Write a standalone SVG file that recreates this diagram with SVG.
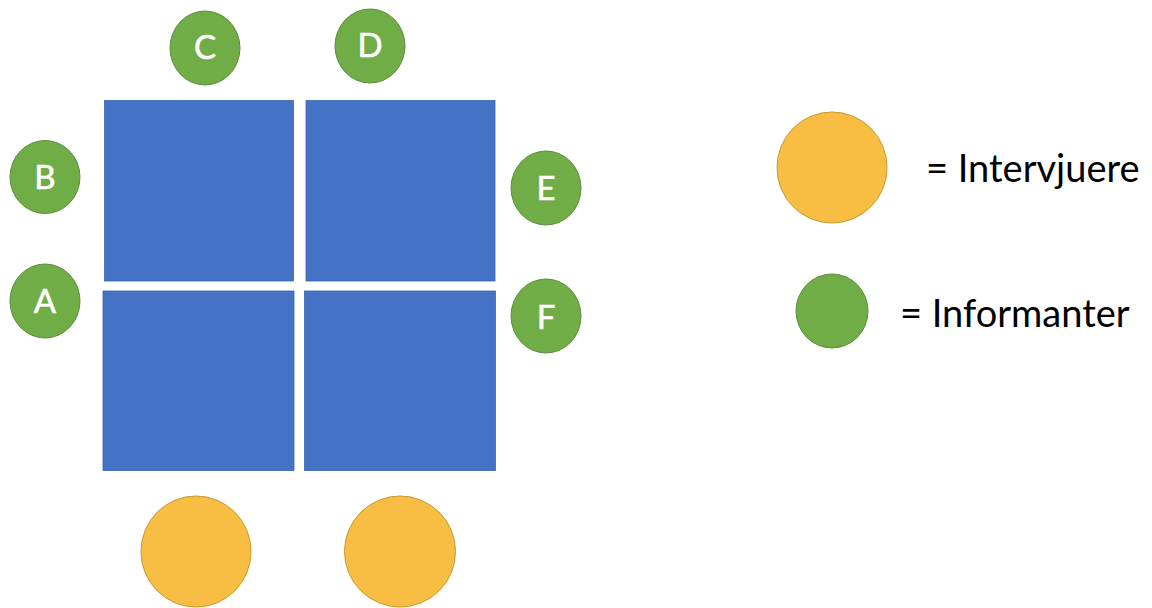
<svg xmlns="http://www.w3.org/2000/svg" width="1152" height="608" viewBox="0 0 1152 608">
<style>
.table{fill:#4472C4;stroke:#3A65B0;stroke-width:0.8}
.inf{fill:#70AD47;stroke:#5A8E38;stroke-width:1}
.int{fill:#F8BE44;stroke:#C9972F;stroke-width:1}
.lbl{font-family:Lato,"Open Sans","Liberation Sans",sans-serif;font-size:33px;fill:#FFFFFF;stroke:#FFFFFF;stroke-width:0.6;text-anchor:middle}
.leg{font-family:Lato,"Open Sans","Liberation Sans",sans-serif;font-size:38px;fill:#000000}
</style>
<rect width="1152" height="608" fill="#FFFFFF"/>
<g id="tables">
<rect id="table-tl" class="table" x="104.5" y="100.5" width="189" height="180.5"/>
<rect id="table-tr" class="table" x="306" y="100.5" width="189" height="180.5"/>
<rect id="table-bl" class="table" x="103" y="291" width="191" height="179.5"/>
<rect id="table-br" class="table" x="304.5" y="291" width="191" height="179.5"/>
</g>
<g id="node-C"><ellipse class="inf" cx="205" cy="48" rx="35" ry="37"/><text class="lbl" x="205" y="59">C</text></g>
<g id="node-D"><ellipse class="inf" cx="370" cy="46" rx="35" ry="37"/><text class="lbl" x="370" y="57">D</text></g>
<g id="node-B"><ellipse class="inf" cx="45" cy="177" rx="35" ry="36.5"/><text class="lbl" x="45" y="189">B</text></g>
<g id="node-E"><ellipse class="inf" cx="546" cy="188" rx="35" ry="37"/><text class="lbl" x="546" y="200">E</text></g>
<g id="node-A"><ellipse class="inf" cx="45" cy="301" rx="35" ry="37"/><text class="lbl" x="45" y="313">A</text></g>
<g id="node-F"><ellipse class="inf" cx="546" cy="316" rx="35" ry="37"/><text class="lbl" x="546" y="329">F</text></g>
<g id="interviewer-1"><ellipse class="int" cx="196" cy="551.5" rx="55" ry="55.5"/></g>
<g id="interviewer-2"><ellipse class="int" cx="400" cy="551.5" rx="55.5" ry="55.5"/></g>
<g id="legend">
<g id="legend-intervjuere"><ellipse class="int" cx="832" cy="167.5" rx="55" ry="55.5"/><text class="leg" x="926" y="182">= Intervjuere</text></g>
<g id="legend-informanter"><ellipse class="inf" cx="832" cy="311" rx="36" ry="37"/><text class="leg" x="900" y="327">= Informanter</text></g>
</g>
<g id="connectors"/>
</svg>
